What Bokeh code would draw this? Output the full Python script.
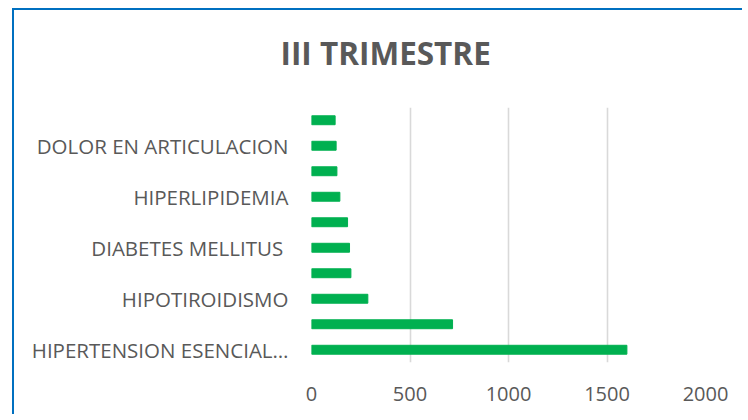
from bokeh.plotting import figure
from bokeh.layouts import column
from bokeh.models import FixedTicker, Title, ColumnDataSource, Range1d
from bokeh.embed import file_html
from bokeh.resources import INLINE

# Data (bottom to top, as in the source chart)
labels = ["HIPERTENSION ESENCIAL\u2026", "", "HIPOTIROIDISMO", "", "DIABETES MELLITUS ",
          "", "HIPERLIPIDEMIA", "", "DOLOR EN ARTICULACION", ""]
values = [1601, 716, 286, 200, 193, 183, 144, 129, 125, 120]
x_ticks = [0, 500, 1000, 1500, 2000]
title_text = "III TRIMESTRE"

positions = list(range(len(values)))
src = ColumnDataSource(dict(y=positions, v=values))

TEXT = "#595959"
FONT = "Open Sans"

p = figure(width=730, height=406, output_backend="svg", toolbar_location=None,
           x_range=Range1d(0, 2000), y_range=Range1d(-0.5, len(values) - 0.5),
           min_border_left=297, min_border_right=39, min_border_top=97, min_border_bottom=54)
p.outline_line_color = None
p.background_fill_color = "white"
p.border_fill_color = "white"

p.hbar(y="y", right="v", left=0, height=0.35, source=src, color="#00B050")

# x axis
p.xaxis.ticker = FixedTicker(ticks=x_ticks)
p.xaxis.axis_line_color = None
p.xaxis.major_tick_line_color = None
p.xaxis.minor_tick_line_color = None
p.xaxis.major_label_text_font = FONT
p.xaxis.major_label_text_font_size = "20px"
p.xaxis.major_label_text_color = TEXT
p.xaxis.major_label_standoff = 18
p.xgrid.ticker = FixedTicker(ticks=x_ticks)
p.xgrid.grid_line_color = "#D9D9D9"
p.xgrid.grid_line_width = 1.6

# y axis
shown = [i for i, t in enumerate(labels) if t]
p.yaxis.ticker = FixedTicker(ticks=shown)
p.yaxis.major_label_overrides = {i: labels[i] for i in shown}
p.yaxis.axis_line_color = None
p.yaxis.major_tick_line_color = None
p.yaxis.minor_tick_line_color = None
p.yaxis.major_label_text_font = FONT
p.yaxis.major_label_text_font_size = "20.5px"
p.yaxis.major_label_text_color = TEXT
p.yaxis.major_label_standoff = 17
p.ygrid.grid_line_color = None

# spacer between frame and title, then the title itself
p.add_layout(Title(text=" ", text_font_size="1px", standoff=31), "above")
p.add_layout(Title(text=title_text, align="left", offset=-31, text_font=FONT,
                   text_font_style="bold", text_font_size="31.5px", text_color=TEXT,
                   standoff=0), "above")

# chart border (only its top and left edges fall inside the window)
page = column(p, styles={"margin-left": "14px", "margin-top": "10px",
                         "box-shadow": "-2px -2px 0 0 #0070C0"})

open("out.html", "w").write(file_html(page, INLINE))
